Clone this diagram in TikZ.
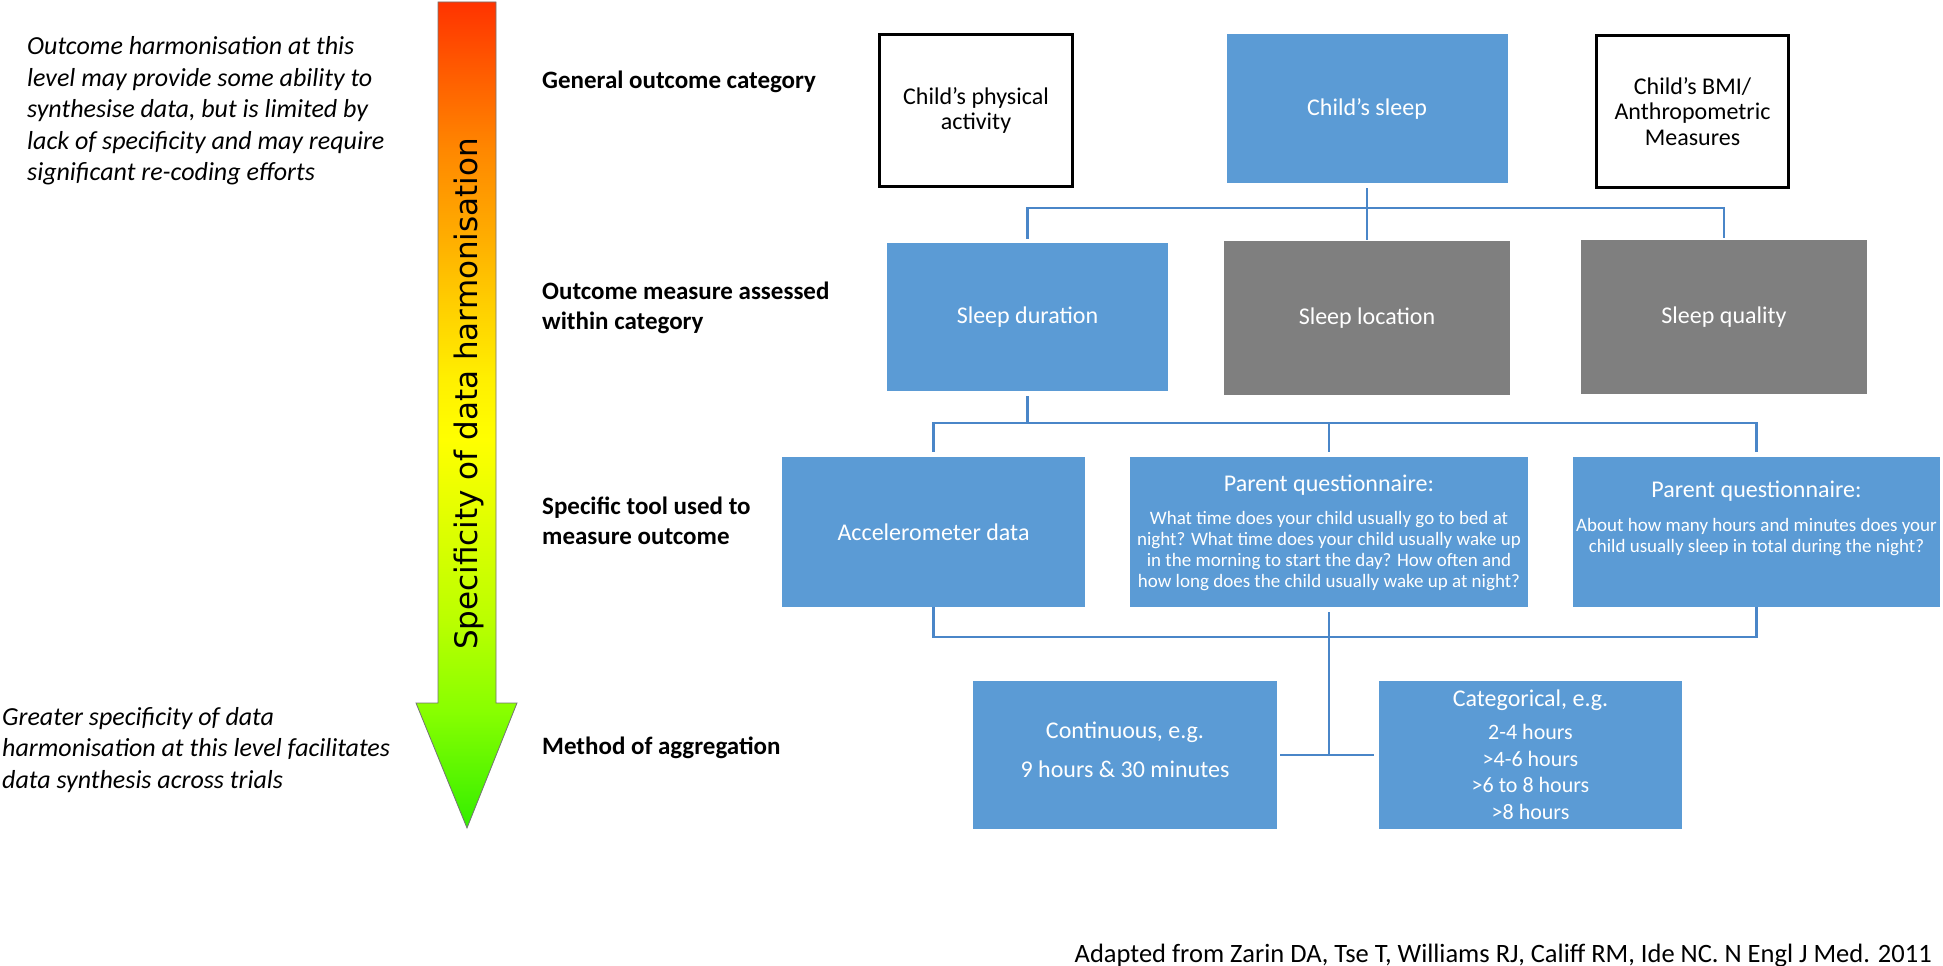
\documentclass[tikz,border=0pt]{standalone}
\usepackage{fontspec}
\setmainfont{Carlito}
\newfontfamily\arrowfont{DejaVu Sans}
\newcommand\qsz{\fontsize{19}{20.8}\selectfont}
\newcommand\csz{\fontsize{22}{26.5}\selectfont}
\definecolor{boxblue}{HTML}{5B9BD5}
\definecolor{boxgray}{HTML}{7F7F7F}
\definecolor{connblue}{HTML}{4A86C8}
\definecolor{cg1}{HTML}{33EE00}
\definecolor{cg2}{HTML}{88FF00}
\definecolor{cg3}{HTML}{BBFF00}
\definecolor{cg4}{HTML}{DDFF00}
\definecolor{cy1}{HTML}{FFFF00}
\definecolor{cy2}{HTML}{FFF000}
\definecolor{co1}{HTML}{FFCC00}
\definecolor{co2}{HTML}{FFAA00}
\definecolor{co3}{HTML}{FF8800}
\definecolor{co4}{HTML}{FF5500}
\definecolor{cr1}{HTML}{FF3300}
\pgfdeclareverticalshading{harm}{100bp}{color(0bp)=(cg1); color(25bp)=(cg1); color(32.1bp)=(cg2); color(37.6bp)=(cg3); color(43bp)=(cg4); color(48.5bp)=(cy1); color(52.1bp)=(cy2); color(57bp)=(co1); color(61.2bp)=(co2); color(66bp)=(co3); color(71.5bp)=(co4); color(75bp)=(cr1); color(100bp)=(cr1)}
\tikzset{
  wbox/.style={draw=black, line width=3pt, fill=white, inner sep=0pt, align=center, font=\fontsize{24}{25.5}\selectfont},
  bbox/.style={fill=boxblue, inner sep=0pt, align=center, text=white, font=\fontsize{24}{29}\selectfont},
  gbox/.style={fill=boxgray, inner sep=0pt, align=center, text=white, font=\fontsize{24}{29}\selectfont},
  wtext/.style={inner sep=0pt, align=center, text=white, font=\fontsize{24}{29}\selectfont},
  conn/.style={draw=connblue, line width=2.5pt},
  lbl/.style={anchor=west, inner sep=0pt, align=left, font=\bfseries\fontsize{25}{30}\selectfont},
  note/.style={anchor=west, inner sep=0pt, align=left, font=\itshape\fontsize{26}{31.5}\selectfont},
}
\begin{document}
\begin{tikzpicture}[x=1pt, y=-1pt]
\useasboundingbox (0,0) rectangle (1943,966);

% gradient arrow
\shadedraw[shading=harm, draw=black!55, line width=0.8pt]
  (438,2) -- (496,2) -- (496,703) -- (517,703) -- (467,828) -- (416,703) -- (438,703) -- cycle;
\node[rotate=90, inner sep=0pt, font=\arrowfont\fontsize{31}{36}\selectfont] (spec) at (469,394) {Specificity of data harmonisation};

% left notes
\node[note] (topnote) at (27,111) {Outcome harmonisation at this\\level may provide some ability to\\synthesise data, but is limited by\\lack of specificity and may require\\significant re-coding efforts};
\node[note] (botnote) at (2,750) {Greater specificity of data\\harmonisation at this level facilitates\\data synthesis across trials};

% level labels
\node[lbl] (l1) at (542,82) {General outcome category};
\node[lbl] (l2) at (542,308) {Outcome measure assessed\\within category};
\node[lbl] (l3) at (542,521) {Specific tool used to\\measure outcome};
\node[lbl] (l4) at (542,748) {Method of aggregation};

% level 1
\node[wbox, minimum width=193, minimum height=152] (phys) at (976,110.5) {Child’s physical\\activity};
\node[bbox, minimum width=281, minimum height=149] (sleep) at (1367,108.5) {Child’s sleep};
\node[wbox, minimum width=192, minimum height=152] (bmi) at (1692.5,111.5) {Child’s BMI/\\Anthropometric\\Measures};

% level 2
\node[bbox, minimum width=281, minimum height=148] (dur) at (1027.5,317) {Sleep duration};
\node[gbox, minimum width=286, minimum height=154] (loc) at (1367,318) {Sleep location};
\node[gbox, minimum width=286, minimum height=154] (qual) at (1724,317) {Sleep quality};

% level 3
\node[bbox, minimum width=303, minimum height=150] (acc) at (933.5,532) {Accelerometer data};
\node[bbox, minimum width=398, minimum height=150] (pq1) at (1329,532) {};
\node[wtext] (pq1h) at (1329,485) {Parent questionnaire:};
\node[wtext, font=\qsz] (pq1t) at (1329,551) {What time does your child usually go to bed at\\
  night? What time does your child usually wake up\\
  in the morning to start the day? How often and\\
  how long does the child usually wake up at night?};
\node[bbox, minimum width=367, minimum height=150] (pq2) at (1756.5,532) {};
\node[wtext] (pq2h) at (1756.5,491) {Parent questionnaire:};
\node[wtext, font=\qsz] (pq2t) at (1756.5,537) {About how many hours and minutes does your\\
  child usually sleep in total during the night?};

% level 4
\node[bbox, minimum width=304, minimum height=148] (cont) at (1125,755) {};
\node[wtext] (contt) at (1125,750) {Continuous, e.g.\\[10pt]9 hours \& 30 minutes};
\node[bbox, minimum width=303, minimum height=148] (cat) at (1530.5,755) {};
\node[wtext] (cath) at (1530.5,700) {Categorical, e.g.};
\node[wtext, font=\csz] (catt) at (1530.5,772) {2-4 hours\\ >4-6 hours\\ >6 to 8 hours\\ >8 hours};

% connectors
\coordinate (rail1) at (0,208);
\coordinate (rail2) at (0,423);
\coordinate (rail3) at (0,637);
\draw[conn] ([yshift=-5pt]sleep.south) -- (sleep.south |- rail1);
\draw[conn] ([yshift=4pt]dur.north) |- (qual.north |- rail1) -- ([yshift=2pt]qual.north);
\draw[conn] (loc.north |- rail1) -- ([yshift=1pt]loc.north);

\draw[conn] ([yshift=-5pt]dur.south) -- (dur.south |- rail2);
\draw[conn] ([yshift=5pt]acc.north) |- (pq2.north |- rail2) -- ([yshift=5pt]pq2.north);
\draw[conn] (pq1.north |- rail2) -- ([yshift=5pt]pq1.north);

\draw[conn] (acc.south) |- (pq2.south |- rail3) -- (pq2.south);
\draw[conn] ([yshift=-5pt]pq1.south) -- (pq1.south |- cont.east);
\draw[conn] ([xshift=3pt]cont.east) -- ([xshift=-5pt]cat.west);

% citation
\node[anchor=east, inner sep=0pt, font=\fontsize{26.5}{30}\selectfont] (cite) at (1932,956) {Adapted from Zarin DA, Tse T, Williams RJ, Califf RM, Ide NC. N Engl J Med. 2011};
\end{tikzpicture}
\end{document}
